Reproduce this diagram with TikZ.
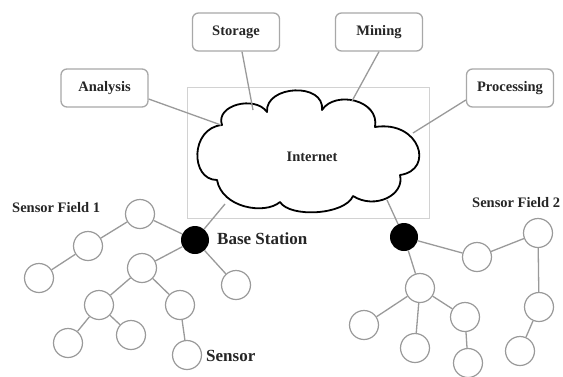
\documentclass[tikz,border=0pt]{standalone}
\usepackage{fontspec}
\setmainfont{Liberation Serif}
\definecolor{boxgray}{HTML}{A8A8A8}
\definecolor{nodegray}{HTML}{9A9A9A}
\definecolor{linegray}{HTML}{9A9A9A}
\definecolor{rectgray}{HTML}{D2D2D2}
\definecolor{txt}{HTML}{262626}
\begin{document}
\begin{tikzpicture}[x=1pt,y=-1pt,
  box/.style={draw=boxgray, line width=1.3pt, rounded corners=6pt, minimum width=87pt, minimum height=38pt, font=\fontsize{14.5}{16}\selectfont\bfseries, text=txt, inner sep=0pt},
  sensor/.style={circle, draw=nodegray, line width=1.2pt, minimum size=29pt, inner sep=0pt},
  bs/.style={circle, fill=black, minimum size=28pt, inner sep=0pt},
  link/.style={draw=linegray, line width=1.3pt},
  lbl/.style={font=\fontsize{14.5}{16}\selectfont\bfseries, text=txt, inner sep=0pt},
  biglbl/.style={font=\fontsize{17}{19}\selectfont\bfseries, text=txt, inner sep=0pt}]
\useasboundingbox (0,0) rectangle (563,376);
\fill[white] (0,0) rectangle (563,376);

% internet frame
\draw[rectgray, line width=0.8pt] (187,87) rectangle (429,218);

% cloud
\draw[black, line width=1.8pt, fill=white, line join=round]
  (222,125) .. controls (215,105) and (255,95) .. (267,112)
  .. controls (265,85) and (325,82) .. (322,110)
  .. controls (335,90) and (380,100) .. (375,127)
  .. controls (420,120) and (435,170) .. (400,175)
  .. controls (405,195) and (375,210) .. (353,196)
  .. controls (345,215) and (290,218) .. (280,202)
  .. controls (265,215) and (222,208) .. (217,180)
  .. controls (190,180) and (190,128) .. cycle;
\node[lbl] (internet) at (312,157) {Internet};

\coordinate (cA) at (221,125);
\coordinate (cS) at (253,110);
\coordinate (cM) at (352,101);
\coordinate (cP) at (413,133);
\coordinate (cB1) at (225,204);
\coordinate (cB2) at (387,200);

% boxes
\node[box] (analysis) at (104.5,88) {Analysis};
\node[box] (storage) at (236,32) {Storage};
\node[box] (mining) at (379,32) {Mining};
\node[box] (processing) at (510,88) {Processing};

\draw[link] ([yshift=-11pt]analysis.east) -- (cA);
\draw[link] ([xshift=6pt]storage.south) -- (cS);
\draw[link] (mining.south) -- (cM);
\draw[link] ([yshift=-12pt]processing.west) -- (cP);

% base stations
\node[bs] (bs1) at (195,240) {};
\node[bs] (bs2) at (404,237) {};
\draw[link] (bs1) -- (cB1);
\draw[link] (bs2) -- (cB2);

% sensor field 1
\node[sensor] (n1) at (140,214) {};
\node[sensor] (n2) at (88,246) {};
\node[sensor] (n3) at (39,278) {};
\node[sensor] (n4) at (142,268) {};
\node[sensor] (n5) at (236,285) {};
\node[sensor] (n6) at (99,305) {};
\node[sensor] (n7) at (180,305) {};
\node[sensor] (n8) at (68,343) {};
\node[sensor] (n9) at (131,335) {};
\node[sensor] (n10) at (187,355) {};
\draw[link] (bs1) -- (n1);
\draw[link] (n1) -- (n2);
\draw[link] (n2) -- (n3);
\draw[link] (bs1) -- (n4);
\draw[link] (bs1) -- (n5);
\draw[link] (n4) -- (n6);
\draw[link] (n4) -- (n7);
\draw[link] (n6) -- (n8);
\draw[link] (n6) -- (n9);
\draw[link] (n7) -- (n10);

% sensor field 2
\node[sensor] (m1) at (477,257) {};
\node[sensor] (m2) at (538,233) {};
\node[sensor] (m3) at (420,288) {};
\node[sensor] (m4) at (364,325) {};
\node[sensor] (m5) at (415,348) {};
\node[sensor] (m6) at (465,317) {};
\node[sensor] (m7) at (468,363) {};
\node[sensor] (m8) at (539,307) {};
\node[sensor] (m9) at (520,351) {};
\draw[link] (bs2) -- (m1);
\draw[link] (m1) -- (m2);
\draw[link] (m2) -- (m8);
\draw[link] (m8) -- (m9);
\draw[link] (bs2) -- (m3);
\draw[link] (m3) -- (m4);
\draw[link] (m3) -- (m5);
\draw[link] (m3) -- (m6);
\draw[link] (m6) -- (m7);

% labels
\node[lbl, anchor=west] (sf1) at (12,208) {Sensor Field 1};
\node[lbl, anchor=west] (sf2) at (472,203) {Sensor Field 2};
\node[biglbl, anchor=west] (bslbl) at (217,239) {Base Station};
\node[biglbl, anchor=west] (snlbl) at (206,356) {Sensor};
\end{tikzpicture}
\end{document}
